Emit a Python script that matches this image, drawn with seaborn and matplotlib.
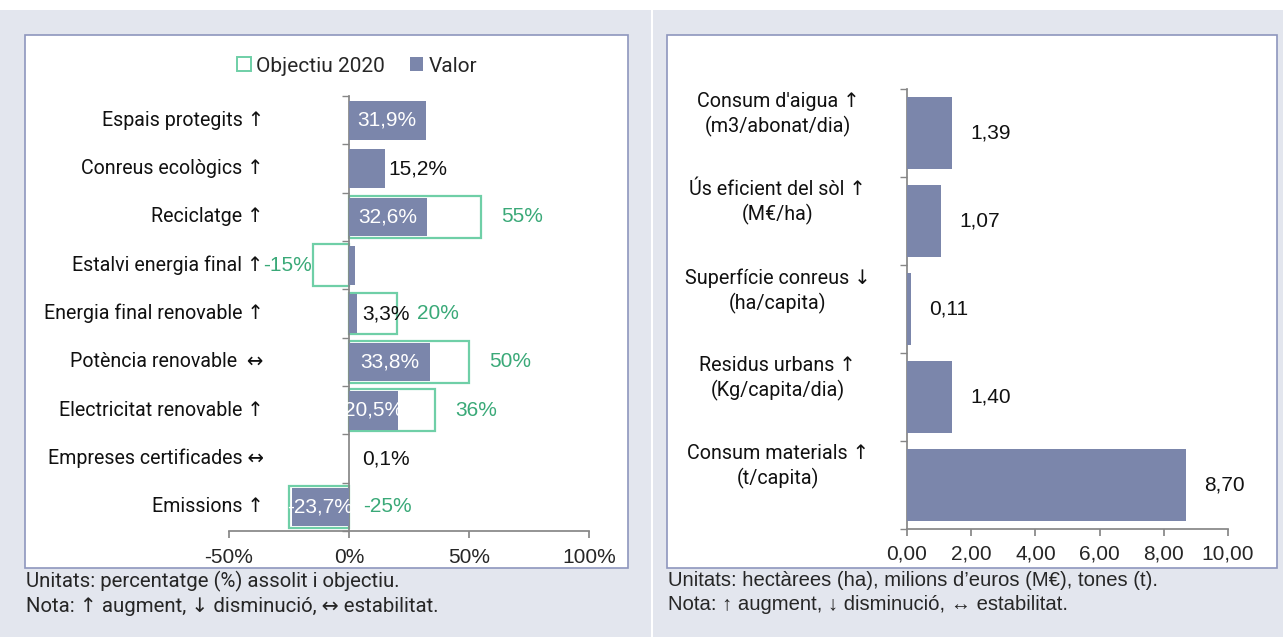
import numpy as np
import pandas as pd
import matplotlib
matplotlib.use("Agg")
import matplotlib.pyplot as plt
import seaborn as sns
from matplotlib.patches import Rectangle, Patch

# --- Data: left panel (percentatge assolit i objectiu) ---
indicadors = ['Espais protegits ↑', 'Conreus ecològics ↑', 'Reciclatge ↑',
              'Estalvi energia final ↑', 'Energia final renovable ↑',
              'Potència renovable  ↔', 'Electricitat renovable ↑',
              'Empreses certificades ↔', 'Emissions ↑']
valor = [31.9, 15.2, 32.6, 2.6, 3.3, 33.8, 20.5, 0.1, -23.7]
valor_etiqueta = ['31,9%', '15,2%', '32,6%', '', '3,3%', '33,8%', '20,5%', '0,1%', '-23,7%']
objectiu = [np.nan, np.nan, 55, -15, 20, 50, 36, np.nan, -25]

# --- Data: right panel ---
indicadors_dreta = ["Consum d'aigua ↑\n(m3/abonat/dia)", 'Ús eficient del sòl ↑\n(M€/ha)',
                    'Superfície conreus ↓\n(ha/capita)', 'Residus urbans ↑\n(Kg/capita/dia)',
                    'Consum materials ↑\n(t/capita)']
valor_dreta = [1.39, 1.07, 0.11, 1.40, 8.70]

df_esq = pd.DataFrame({'Indicador': indicadors, 'Valor': valor, 'Objectiu': objectiu})
df_dre = pd.DataFrame({'Indicador': indicadors_dreta, 'Valor': valor_dreta})

# --- Style ---
sns.set_theme(style='white')
narrow = ['Roboto', 'DejaVu Sans']
plt.rcParams['font.family'] = ['Liberation Sans', 'DejaVu Sans']

BAR = '#7b86ab'
GREEN_EDGE = '#6fcfa7'
GREEN_TXT = '#3aa978'
BG = '#e3e6ee'
BORDER = '#8e96bd'
AXC = '#868686'
NUM = 15

W, H = 1283, 637
fig = plt.figure(figsize=(W / 100, H / 100), dpi=100, facecolor=BG)


def px_rect(x0, y0, x1, y1, **kw):
    # rectangle in pixel coords (top-left origin) -> figure fraction
    fig.patches.append(Rectangle((x0 / W, 1 - y1 / H), (x1 - x0) / W, (y1 - y0) / H,
                                 transform=fig.transFigure, figure=fig, **kw))


px_rect(0, 0, W, 10, facecolor='white', edgecolor='none', zorder=0)
px_rect(651, 10, 653, H, facecolor='white', edgecolor='none', zorder=0)
px_rect(25, 35, 628, 568, facecolor='white', edgecolor=BORDER, linewidth=1.2, zorder=0)
px_rect(667, 35, 1277, 568, facecolor='white', edgecolor=BORDER, linewidth=1.2, zorder=0)

# --- Left chart ---
ax1 = fig.add_axes([229 / W, 1 - 531 / H, 360 / W, 435 / H])
ax1.set_zorder(5)
ax1.patch.set_alpha(0)
sns.barplot(data=df_esq, y='Indicador', x='Objectiu', order=indicadors, orient='h',
            color='white', edgecolor=GREEN_EDGE, linewidth=1.6, width=0.86,
            saturation=1, ax=ax1, zorder=2)
sns.barplot(data=df_esq, y='Indicador', x='Valor', order=indicadors, orient='h',
            color=BAR, width=0.8, saturation=1, linewidth=0, ax=ax1, zorder=3)

ax1.set_xlim(-50, 100)
ax1.set_ylim(len(indicadors) - 0.5, -0.5)
ax1.set_xlabel('')
ax1.set_ylabel('')
for s in ['top', 'right']:
    ax1.spines[s].set_visible(False)
ax1.spines['left'].set_position(('data', 0))
ax1.spines['left'].set_color(AXC)
ax1.spines['bottom'].set_color(AXC)
ax1.set_xticks([-50, 0, 50, 100])
ax1.set_xticklabels(['-50%', '0%', '50%', '100%'], fontsize=NUM)
ax1.set_yticks(range(len(indicadors)))
ax1.set_yticklabels([])
ax1.set_yticks(np.arange(-0.5, len(indicadors), 1), minor=True)
ax1.tick_params(axis='y', which='major', length=0)
ax1.tick_params(axis='y', which='minor', length=5, direction='out', color=AXC, left=True)
ax1.tick_params(axis='x', length=5, direction='out', color=AXC, bottom=True, pad=7)

for i, lbl in enumerate(indicadors):
    ax1.text(-35.5, i, lbl, ha='right', va='center', fontsize=14.1, family=narrow, color='#111111')

for i, (v, t) in enumerate(zip(valor, valor_etiqueta)):
    if not t:
        continue
    if abs(v) >= 20:
        ax1.text(v / 2, i, t, ha='center', va='center', color='white', fontsize=NUM, zorder=5)
    else:
        ax1.text(max(v + 1, 5.5), i, t, ha='left', va='center', color='#111111',
                 fontsize=NUM, zorder=5)

for i, (o, v) in enumerate(zip(objectiu, valor)):
    if np.isnan(o):
        continue
    t = f'{o:.0f}%'
    if o >= 0:
        ax1.text(o + 17, i, t, ha='center', va='center', color=GREEN_TXT, fontsize=NUM)
    elif v < 0:
        ax1.text(16, i, t, ha='center', va='center', color=GREEN_TXT, fontsize=NUM)
    else:
        ax1.text(o - 0.5, i, t, ha='right', va='center', color=GREEN_TXT, fontsize=NUM)

handles = [Patch(facecolor='white', edgecolor=GREEN_EDGE, linewidth=1.4, label='Objectiu 2020'),
           Patch(facecolor=BAR, edgecolor='none', label='Valor')]
leg = fig.legend(handles=handles, loc='center', bbox_to_anchor=(357 / W, 1 - 66 / H), ncol=2,
                 frameon=False, handlelength=0.65, handleheight=0.65, handletextpad=0.25,
                 columnspacing=1.2, prop={'family': narrow, 'size': 15})
leg.set_zorder(6)

# --- Right chart ---
ax2 = fig.add_axes([907 / W, 1 - 529 / H, 321 / W, 440 / H])
ax2.set_zorder(5)
ax2.patch.set_alpha(0)
sns.barplot(data=df_dre, y='Indicador', x='Valor', order=indicadors_dreta, orient='h',
            color=BAR, width=0.82, saturation=1, linewidth=0, ax=ax2, zorder=3)
ax2.set_xlim(0, 10)
ax2.set_ylim(len(indicadors_dreta) - 0.5, -0.5)
ax2.set_xlabel('')
ax2.set_ylabel('')
for s in ['top', 'right']:
    ax2.spines[s].set_visible(False)
ax2.spines['left'].set_color(AXC)
ax2.spines['bottom'].set_color(AXC)
ax2.set_xticks(np.arange(0, 11, 2))
ax2.set_xticklabels([f'{t:.2f}'.replace('.', ',') for t in np.arange(0, 11, 2)], fontsize=NUM)
ax2.set_yticks(range(len(indicadors_dreta)))
ax2.set_yticklabels([])
ax2.set_yticks(np.arange(-0.5, len(indicadors_dreta), 1), minor=True)
ax2.tick_params(axis='y', which='major', length=0)
ax2.tick_params(axis='y', which='minor', length=5, direction='out', color=AXC, left=True)
ax2.tick_params(axis='x', length=5, direction='out', color=AXC, bottom=True, pad=6)

for i, lbl in enumerate(indicadors_dreta):
    ax2.annotate(lbl, xy=(0, i), xycoords=ax2.get_yaxis_transform(), xytext=(-93, 13),
                 textcoords='offset points', ha='center', va='center', multialignment='center',
                 fontsize=14.2, family=narrow, color='#111111', linespacing=1.3)

for i, v in enumerate(valor_dreta):
    ax2.text(v + 1.2, i, f'{v:.2f}'.replace('.', ','), ha='center', va='center',
             color='#111111', fontsize=NUM)

# --- Notes ---
nota = 'Nota: ↑ augment, ↓ disminució, ↔ estabilitat.'
fig.text(26 / W, 1 - 581 / H, 'Unitats: percentatge (%) assolit i objectiu.', ha='left', va='center',
         fontsize=14.7, family=narrow)
fig.text(26 / W, 1 - 606 / H, nota, ha='left', va='center', fontsize=14.7, family=narrow)
fig.text(668 / W, 1 - 580 / H, 'Unitats: hectàrees (ha), milions d’euros (M€), tones (t).',
         ha='left', va='center', fontsize=14.6)
fig.text(668 / W, 1 - 605 / H, nota, ha='left', va='center', fontsize=14.6)

fig.savefig('out.png', dpi=100, facecolor=BG)
